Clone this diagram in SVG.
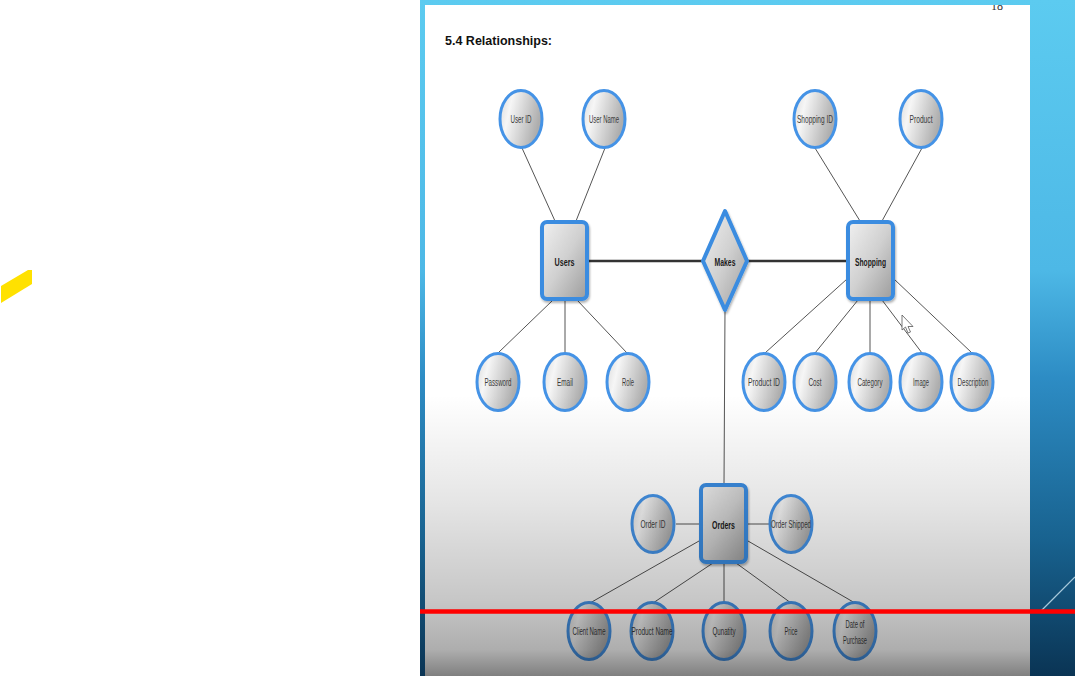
<svg xmlns="http://www.w3.org/2000/svg" width="1075" height="676" viewBox="0 0 1075 676">
<defs>
<linearGradient id="bg" x1="0" y1="0" x2="0" y2="1">
<stop offset="0" stop-color="#5ccbf0"/>
<stop offset="0.4" stop-color="#4db8e6"/>
<stop offset="0.56" stop-color="#2d8cc4"/>
<stop offset="0.8" stop-color="#18628f"/>
<stop offset="1" stop-color="#0a3454"/>
</linearGradient>
<linearGradient id="shade" gradientUnits="userSpaceOnUse" x1="0" y1="395" x2="0" y2="676">
<stop offset="0" stop-color="#000" stop-opacity="0"/>
<stop offset="0.374" stop-color="#000" stop-opacity="0.1"/>
<stop offset="0.73" stop-color="#000" stop-opacity="0.22"/>
<stop offset="0.907" stop-color="#000" stop-opacity="0.32"/>
<stop offset="1" stop-color="#000" stop-opacity="0.5"/>
</linearGradient>
<linearGradient id="attrFill" x1="0" y1="0" x2="1" y2="0.3">
<stop offset="0" stop-color="#d8d8d8"/>
<stop offset="0.3" stop-color="#f6f6f6"/>
<stop offset="1" stop-color="#adadad"/>
</linearGradient>
<linearGradient id="entFill" x1="0" y1="0" x2="1" y2="1">
<stop offset="0" stop-color="#f0f0f0"/>
<stop offset="0.5" stop-color="#d0d0d0"/>
<stop offset="1" stop-color="#9c9c9c"/>
</linearGradient>
<clipPath id="pageClip"><rect x="425" y="5" width="605" height="671"/></clipPath>
<filter id="sh" x="-30%" y="-30%" width="160%" height="160%">
<feDropShadow dx="1" dy="2" stdDeviation="1.2" flood-color="#000" flood-opacity="0.3"/>
</filter>
</defs>
<style>
.attr{fill:url(#attrFill);stroke:#4593e6;stroke-width:3}
.ent{fill:url(#entFill);stroke:#3a8ce0;stroke-width:4;filter:url(#sh)}
.lbl{font-family:"Liberation Sans Narrow","Liberation Sans",Arial,sans-serif;font-size:11px;fill:#3a3a3a;text-anchor:middle}
.elbl{font-family:"Liberation Sans Narrow","Liberation Sans",Arial,sans-serif;font-size:11.5px;font-weight:bold;fill:#1a1a1a;text-anchor:middle}
.thin{stroke:#555;stroke-width:1;fill:none}
.thick{stroke:#333;stroke-width:2.5;fill:none}
</style>
<rect x="0" y="0" width="1075" height="676" fill="#ffffff"/>
<polygon points="1,286 28,270 32,270 32,284 1,303" fill="#ffe100"/>
<rect x="420" y="0" width="655" height="676" fill="url(#bg)"/>
<line x1="1041" y1="611" x2="1075" y2="577" stroke="#a9cbdc" stroke-width="1.2"/>
<rect x="425" y="5" width="605" height="671" fill="#ffffff"/>
<text x="997" y="10" clip-path="url(#pageClip)" font-family="Liberation Serif,serif" font-size="12" fill="#333" text-anchor="middle">18</text>
<text x="445" y="45" font-family="Liberation Sans,Arial,sans-serif" font-size="13" font-weight="bold" fill="#111" textLength="107" lengthAdjust="spacingAndGlyphs">5.4 Relationships:</text>

<g id="connectors">
<line class="thin" x1="522" y1="148" x2="555" y2="221"/>
<line class="thin" x1="605" y1="148" x2="576" y2="221"/>
<line class="thin" x1="815" y1="148" x2="860" y2="221"/>
<line class="thin" x1="922" y1="148" x2="882" y2="221"/>
<line class="thick" x1="588" y1="261" x2="703" y2="261"/>
<line class="thick" x1="748" y1="261" x2="847" y2="261"/>
<line class="thin" x1="553" y1="300" x2="498" y2="353"/>
<line class="thin" x1="565" y1="300" x2="565" y2="353"/>
<line class="thin" x1="577" y1="300" x2="627" y2="353"/>
<line class="thin" x1="847" y1="279" x2="765" y2="353"/>
<line class="thin" x1="858" y1="300" x2="815" y2="353"/>
<line class="thin" x1="870" y1="300" x2="870" y2="353"/>
<line class="thin" x1="882" y1="300" x2="922" y2="353"/>
<line class="thin" x1="894" y1="279" x2="972" y2="353"/>
<line class="thin" x1="725" y1="309" x2="724" y2="484"/>
<line class="thin" x1="676" y1="524" x2="699" y2="524"/>
<line class="thin" x1="748" y1="524" x2="769" y2="524"/>
<line class="thin" x1="699" y1="541" x2="590" y2="603"/>
<line class="thin" x1="713" y1="563" x2="653" y2="603"/>
<line class="thin" x1="724" y1="563" x2="724" y2="603"/>
<line class="thin" x1="736" y1="563" x2="791" y2="603"/>
<line class="thin" x1="748" y1="541" x2="855" y2="603"/>
</g>

<g id="user-id"><ellipse class="attr" cx="521" cy="119" rx="21" ry="28.5"/><text class="lbl" x="521" y="123" textLength="21" lengthAdjust="spacingAndGlyphs">User ID</text></g>
<g id="user-name"><ellipse class="attr" cx="604" cy="119" rx="21" ry="28.5"/><text class="lbl" x="604" y="123" textLength="30" lengthAdjust="spacingAndGlyphs">User Name</text></g>
<g id="shopping-id"><ellipse class="attr" cx="815" cy="119" rx="21" ry="28.5"/><text class="lbl" x="815" y="123" textLength="36" lengthAdjust="spacingAndGlyphs">Shopping ID</text></g>
<g id="product"><ellipse class="attr" cx="921" cy="119" rx="21" ry="28.5"/><text class="lbl" x="921" y="123" textLength="23" lengthAdjust="spacingAndGlyphs">Product</text></g>

<g id="users"><rect class="ent" x="542" y="222" width="45" height="77" rx="5"/><text class="elbl" x="564.5" y="265.5" textLength="20" lengthAdjust="spacingAndGlyphs">Users</text></g>
<g id="makes"><polygon class="ent" stroke-linejoin="round" points="725,211 747,261 725,310 703,261"/><text class="elbl" x="725" y="265.5" textLength="21" lengthAdjust="spacingAndGlyphs">Makes</text></g>
<g id="shopping"><rect class="ent" x="848" y="222" width="45" height="77" rx="5"/><text class="elbl" x="870.5" y="265.5" textLength="31" lengthAdjust="spacingAndGlyphs">Shopping</text></g>

<g id="password"><ellipse class="attr" cx="498" cy="382" rx="21" ry="28.5"/><text class="lbl" x="498" y="386" textLength="27" lengthAdjust="spacingAndGlyphs">Password</text></g>
<g id="email"><ellipse class="attr" cx="565" cy="382" rx="21" ry="28.5"/><text class="lbl" x="565" y="386" textLength="16" lengthAdjust="spacingAndGlyphs">Email</text></g>
<g id="role"><ellipse class="attr" cx="628" cy="382" rx="21" ry="28.5"/><text class="lbl" x="628" y="386" textLength="12" lengthAdjust="spacingAndGlyphs">Role</text></g>

<g id="product-id"><ellipse class="attr" cx="764" cy="382" rx="21" ry="28.5"/><text class="lbl" x="764" y="386" textLength="32" lengthAdjust="spacingAndGlyphs">Product ID</text></g>
<g id="cost"><ellipse class="attr" cx="815" cy="382" rx="21" ry="28.5"/><text class="lbl" x="815" y="386" textLength="13" lengthAdjust="spacingAndGlyphs">Cost</text></g>
<g id="category"><ellipse class="attr" cx="870" cy="382" rx="21" ry="28.5"/><text class="lbl" x="870" y="386" textLength="25" lengthAdjust="spacingAndGlyphs">Category</text></g>
<g id="image"><ellipse class="attr" cx="921" cy="382" rx="21" ry="28.5"/><text class="lbl" x="921" y="386" textLength="16" lengthAdjust="spacingAndGlyphs">Image</text></g>
<g id="description"><ellipse class="attr" cx="972" cy="382" rx="21" ry="28.5"/><text class="lbl" x="973" y="386" textLength="31" lengthAdjust="spacingAndGlyphs">Description</text></g>

<g id="order-id"><ellipse class="attr" cx="653" cy="524" rx="21" ry="28.5"/><text class="lbl" x="653" y="528" textLength="25" lengthAdjust="spacingAndGlyphs">Order ID</text></g>
<g id="orders"><rect class="ent" x="701" y="485" width="45" height="77" rx="5"/><text class="elbl" x="723.5" y="528.5" textLength="23" lengthAdjust="spacingAndGlyphs">Orders</text></g>
<g id="order-shipped"><ellipse class="attr" cx="791" cy="524" rx="21" ry="28.5"/><text class="lbl" x="791" y="528" textLength="40" lengthAdjust="spacingAndGlyphs">Order Shipped</text></g>

<g id="client-name"><ellipse class="attr" cx="589" cy="631" rx="21" ry="28.5"/><text class="lbl" x="589" y="635" textLength="33" lengthAdjust="spacingAndGlyphs">Client Name</text></g>
<g id="product-name"><ellipse class="attr" cx="652" cy="631" rx="21" ry="28.5"/><text class="lbl" x="652" y="635" textLength="41" lengthAdjust="spacingAndGlyphs">Product Name</text></g>
<g id="qunatity"><ellipse class="attr" cx="724" cy="631" rx="21" ry="28.5"/><text class="lbl" x="724" y="635" textLength="23" lengthAdjust="spacingAndGlyphs">Qunatity</text></g>
<g id="price"><ellipse class="attr" cx="791" cy="631" rx="21" ry="28.5"/><text class="lbl" x="791" y="635" textLength="13" lengthAdjust="spacingAndGlyphs">Price</text></g>
<g id="date-of-purchase"><ellipse class="attr" cx="855" cy="631" rx="21" ry="28.5"/><text class="lbl" x="855" y="628" textLength="19" lengthAdjust="spacingAndGlyphs">Date of</text><text class="lbl" x="855" y="644" textLength="24" lengthAdjust="spacingAndGlyphs">Purchase</text></g>

<path d="M902,315 L902,330 L905.5,327 L908,333 L910.5,332 L908,326.5 L913,326.5 Z" fill="#fff" stroke="#555" stroke-width="0.8" stroke-linejoin="round"/>

<rect x="425" y="395" width="605" height="281" fill="url(#shade)"/>
<line x1="420" y1="611.5" x2="1075" y2="611.5" stroke="#ff0000" stroke-width="4.5"/>
</svg>
